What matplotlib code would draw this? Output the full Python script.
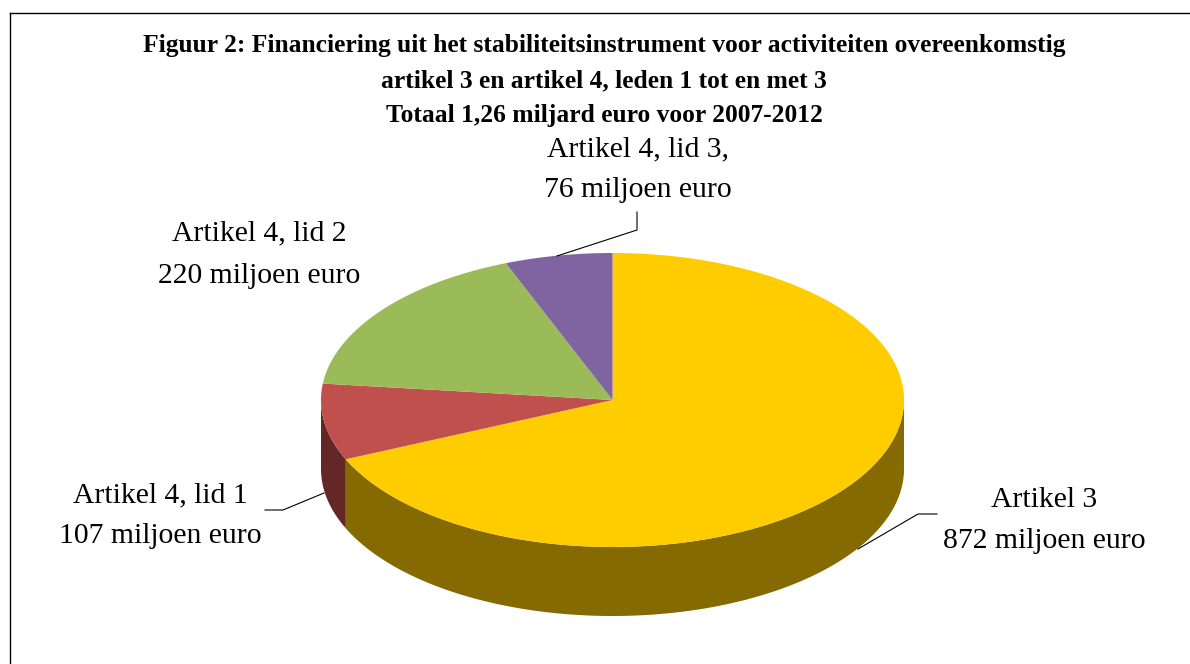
import numpy as np
import matplotlib
matplotlib.use("Agg")
from matplotlib import pyplot as plt

plt.rcParams["font.family"] = ["Liberation Serif", "DejaVu Serif"]

# values in million euro, clockwise from 12 o'clock
labels = ["Artikel 3\n872 miljoen euro", "Artikel 4, lid 1\n107 miljoen euro",
          "Artikel 4, lid 2\n220 miljoen euro", "Artikel 4, lid 3,\n76 miljoen euro"]
values = [872, 107, 220, 76]
top_colors = ["#FFCC00", "#C0504D", "#9BBB59", "#8064A2"]
side_colors = ["#846A00", "#632826", "#506431", "#423353"]
title_lines = ["Figuur 2: Financiering uit het stabiliteitsinstrument voor activiteiten overeenkomstig",
               "artikel 3 en artikel 4, leden 1 tot en met 3",
               "Totaal 1,26 miljard euro voor 2007-2012"]

cx, cy, rx, ry, depth = 612.5, 400, 291.5, 147, 69

fig = plt.figure(figsize=(11.9, 6.64), dpi=100)
ax = fig.add_axes([0, 0, 1, 1])
ax.set_xlim(0, 1190)
ax.set_ylim(664, 0)
ax.axis("off")


def rim(t):
    return cx + rx * np.sin(t), cy - ry * np.cos(t)


edges = np.radians(np.concatenate([[0], np.cumsum(values)]) / sum(values) * 360)

# side walls first, only the front half (90..270 deg) shows
for i in range(len(values)):
    a = max(edges[i], np.pi / 2)
    b = min(edges[i + 1], 3 * np.pi / 2)
    if a >= b:
        continue
    t = np.linspace(a, b, 200)
    x, y = rim(t)
    ax.fill(np.r_[x, x[::-1]], np.r_[y, y[::-1] + depth], color=side_colors[i], lw=0)

# top faces
for i in range(len(values)):
    t = np.linspace(edges[i], edges[i + 1], 300)
    x, y = rim(t)
    ax.fill(np.r_[cx, x], np.r_[cy, y], color=top_colors[i], lw=0)

# leader lines
ax.plot([858, 918, 937], [549, 514, 514], color="black", lw=0.8)
ax.plot([324, 283, 265], [493, 510, 510], color="black", lw=0.8)
ax.plot([557, 637, 637], [256, 230, 212], color="black", lw=0.8)

# slice labels
ax.text(1044, 520.5, labels[0], ha="center", va="center", fontsize=21.3, linespacing=1.76)
ax.text(160, 515.5, labels[1], ha="center", va="center", fontsize=21.3, linespacing=1.76)
ax.text(259, 254.5, labels[2], ha="center", va="center", fontsize=21.3, linespacing=1.84)
ax.text(638, 169.5, labels[3], ha="center", va="center", fontsize=21.3, linespacing=1.76)

# title
for line, ypos in zip(title_lines, [52, 87, 122]):
    ax.text(604, ypos, line, ha="center", va="baseline", fontsize=18.35, fontweight="bold")

# outer frame, open on the right and at the bottom
ax.plot([9.5, 9.5], [664, 13], color="black", lw=1)
ax.plot([9.5, 1190], [13, 13], color="black", lw=1)

fig.savefig("out.png", dpi=100)
